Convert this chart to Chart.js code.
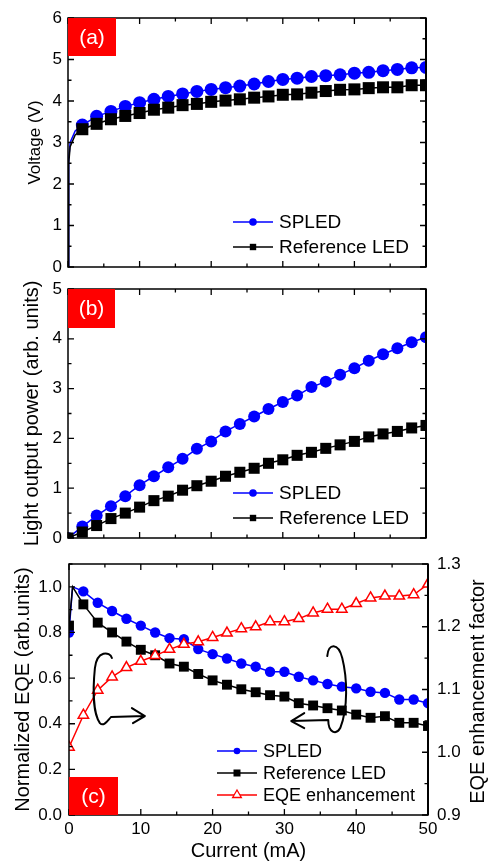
<!DOCTYPE html>
<html>
<head>
<meta charset="utf-8">
<script src="https://cdn.jsdelivr.net/npm/chart.js@4/dist/chart.umd.min.js"></script>
<style>
  body { margin:0; background:#fff; }
  #wrap { position:relative; width:490px; height:863px; }
  canvas { position:absolute; left:0; top:0; }
</style>
</head>
<body>
<div id="wrap">
  <canvas id="cA" width="490" height="863"></canvas>
  <canvas id="cB" width="490" height="863"></canvas>
  <canvas id="cC" width="490" height="863"></canvas>
</div>
<script>
/* ---------- data ---------- */
// (a) voltage vs current
const curA    = [0, 0.1, 0.3, 1.0, 2, 4, 6, 8, 10, 12, 14, 16, 18, 20, 22, 24, 26, 28, 30, 32, 34, 36, 38, 40, 42, 44, 46, 48, 50];
const vSpled  = [0, 2.6, 3.0, 3.28, 3.42, 3.63, 3.75, 3.87, 3.96, 4.04, 4.11, 4.17, 4.23, 4.28, 4.32, 4.36, 4.41, 4.47, 4.52, 4.55, 4.59, 4.61, 4.63, 4.67, 4.69, 4.73, 4.76, 4.80, 4.81];
const vRef    = [0, 2.5, 2.9, 3.18, 3.32, 3.45, 3.56, 3.64, 3.71, 3.79, 3.84, 3.90, 3.93, 3.98, 4.01, 4.04, 4.08, 4.11, 4.15, 4.16, 4.20, 4.24, 4.27, 4.28, 4.31, 4.33, 4.33, 4.38, 4.38];

// (b) light output power vs current
const curB    = [0, 2, 4, 6, 8, 10, 12, 14, 16, 18, 20, 22, 24, 26, 28, 30, 32, 34, 36, 38, 40, 42, 44, 46, 48, 50];
const pSpled  = [0, 0.23, 0.45, 0.64, 0.84, 1.06, 1.24, 1.42, 1.59, 1.79, 1.94, 2.14, 2.29, 2.44, 2.59, 2.73, 2.86, 3.03, 3.14, 3.28, 3.41, 3.56, 3.69, 3.81, 3.93, 4.03];
const pRef    = [0, 0.12, 0.25, 0.39, 0.50, 0.62, 0.75, 0.84, 0.96, 1.05, 1.14, 1.24, 1.32, 1.40, 1.50, 1.57, 1.66, 1.72, 1.80, 1.87, 1.94, 2.03, 2.09, 2.14, 2.21, 2.26];

// (c) normalized EQE and enhancement factor
const curC     = [0, 0.5, 2, 4, 6, 8, 10, 12, 14, 16, 18, 20, 22, 24, 26, 28, 30, 32, 34, 36, 38, 40, 42, 44, 46, 48, 50];
const eqeSpled = [0.80, 1.00, 0.98, 0.93, 0.894, 0.86, 0.83, 0.80, 0.775, 0.77, 0.727, 0.705, 0.686, 0.664, 0.65, 0.628, 0.628, 0.606, 0.59, 0.574, 0.5625, 0.555, 0.54, 0.535, 0.506, 0.506, 0.49];
const eqeRef   = [0.83, 1.00, 0.923, 0.843, 0.80, 0.76, 0.724, 0.70, 0.664, 0.65, 0.618, 0.59, 0.571, 0.551, 0.538, 0.525, 0.519, 0.49, 0.48, 0.468, 0.458, 0.44, 0.426, 0.433, 0.404, 0.404, 0.39];
const curE     = [0, 2, 4, 6, 8, 10, 12, 14, 16, 18, 20, 22, 24, 26, 28, 30, 32, 34, 36, 38, 40, 42, 44, 46, 48, 50];
const eqeEnh   = [1.008, 1.059, 1.099, 1.12, 1.135, 1.145, 1.154, 1.164, 1.172, 1.176, 1.183, 1.19, 1.197, 1.20, 1.208, 1.208, 1.213, 1.222, 1.228, 1.228, 1.237, 1.246, 1.249, 1.249, 1.251, 1.268];

// tick labels
const xTicks   = [0, 10, 20, 30, 40, 50];
const yTicksA  = [0, 1, 2, 3, 4, 5, 6];
const yTicksB  = [0, 1, 2, 3, 4, 5];
const yTicksC  = [0, 0.2, 0.4, 0.6, 0.8, 1.0];
const y1TicksC = [0.9, 1.0, 1.1, 1.2, 1.3];

/* ---------- look ---------- */
const FONT = "'Liberation Sans', Arial, sans-serif";
Chart.defaults.font.family = FONT;
Chart.defaults.color = '#000';
const BLUE = '#0000ff', RED = '#ff0000', BLACK = '#000000';

const pts = (xs, ys) => xs.map((x, i) => ({x, y: ys[i]}));
const setTicks = arr => s => { s.ticks = arr.map(v => ({value: v})); };

// legend marker
const mark = (ctx, style, x, y, r, fill, stroke) => {
  ctx.beginPath();
  if (style === 'circle') ctx.arc(x, y, r, 0, Math.PI * 2);
  else if (style === 'rect') ctx.rect(x - r, y - r, 2 * r, 2 * r);
  else { ctx.moveTo(x, y - r); ctx.lineTo(x + r * 0.87, y + r * 0.5); ctx.lineTo(x - r * 0.87, y + r * 0.5); ctx.closePath(); }
  ctx.fillStyle = fill; ctx.fill();
  if (stroke) { ctx.strokeStyle = stroke; ctx.lineWidth = 1.3; ctx.stroke(); }
};

/* frame, inward ticks, red tag, legend, curly arrows */
const deco = {
  id: 'deco',
  afterDatasetsDraw(chart, _a, o) {
    const {ctx, chartArea: ca} = chart;
    if (!o || !o.tag) return;
    ctx.save();
    ctx.strokeStyle = '#000';
    ctx.lineWidth = 1.3;
    (o.ticks || []).forEach(t => {
      const s = chart.scales[t.axis];
      const n = Math.round((s.max - s.min) / t.minor);
      ctx.beginPath();
      for (let i = 0; i <= n; i++) {
        const v = s.min + i * t.minor;
        const q = v / t.major;
        const len = Math.abs(q - Math.round(q)) < 1e-6 ? 6 : 3.5;
        const p = s.getPixelForValue(v);
        t.sides.forEach(side => {
          if (side === 'bottom') { ctx.moveTo(p, ca.bottom); ctx.lineTo(p, ca.bottom - len); }
          if (side === 'top')    { ctx.moveTo(p, ca.top);    ctx.lineTo(p, ca.top + len); }
          if (side === 'left')   { ctx.moveTo(ca.left, p);   ctx.lineTo(ca.left + len, p); }
          if (side === 'right')  { ctx.moveTo(ca.right, p);  ctx.lineTo(ca.right - len, p); }
        });
      }
      ctx.stroke();
    });
    // frame
    ctx.lineWidth = 1.5;
    ctx.strokeRect(ca.left, ca.top, ca.right - ca.left, ca.bottom - ca.top);
    ctx.lineWidth = 2;
    ctx.beginPath(); ctx.moveTo(ca.right, ca.top); ctx.lineTo(ca.right, ca.bottom); ctx.stroke();

    // red panel tag
    const tg = o.tag;
    const ty = tg.atBottom ? ca.bottom - tg.h : ca.top;
    ctx.fillStyle = RED;
    ctx.fillRect(ca.left, ty, tg.w, tg.h);
    ctx.fillStyle = '#fff';
    ctx.font = `21px ${FONT}`;
    ctx.textAlign = 'center'; ctx.textBaseline = 'middle';
    ctx.fillText(tg.text, ca.left + tg.w / 2, ty + tg.h / 2 + 1);

    // legend
    const lg = o.legend;
    ctx.font = `${lg.size}px ${FONT}`;
    ctx.textAlign = 'left';
    lg.items.forEach((it, i) => {
      const y = lg.y + i * lg.dy;
      ctx.strokeStyle = it.color; ctx.lineWidth = 1.5;
      ctx.beginPath(); ctx.moveTo(lg.x, y); ctx.lineTo(lg.x + 40, y); ctx.stroke();
      mark(ctx, it.style, lg.x + 20, y, it.r, it.fill, it.stroke);
      ctx.fillStyle = '#000';
      ctx.fillText(it.text, lg.x + 46, y + 1);
    });

    // right axis title, read bottom to top
    if (o.rightTitle) {
      ctx.save();
      ctx.translate(o.rightTitle.x, (ca.top + ca.bottom) / 2 + 2);
      ctx.rotate(-Math.PI / 2);
      ctx.font = `20px ${FONT}`;
      ctx.fillStyle = '#000';
      ctx.textAlign = 'center'; ctx.textBaseline = 'middle';
      ctx.fillText(o.rightTitle.text, 0, 0);
      ctx.restore();
    }

    // curly arrows (which curve belongs to which axis)
    if (o.arrows) {
      const sx = chart.scales.x, sy = chart.scales.y;
      ctx.strokeStyle = '#000'; ctx.lineWidth = 2;
      ctx.lineJoin = 'round'; ctx.lineCap = 'round';
      let ax = sx.getPixelForValue(5), ay = sy.getPixelForValue(0.6);
      ctx.beginPath();
      ctx.moveTo(ax + 7, ay - 20);
      ctx.bezierCurveTo(ax + 5, ay - 27, ax - 8, ay - 28, ax - 10, ay - 10);
      ctx.bezierCurveTo(ax - 12, ay + 10, ax - 12, ay + 35, ax - 5, ay + 45);
      ctx.bezierCurveTo(ax - 1, ay + 49, ax + 3, ay + 42, ax + 6, ay + 39);
      ctx.lineTo(ax + 40, ay + 38);
      ctx.moveTo(ax + 27, ay + 30); ctx.lineTo(ax + 40, ay + 38); ctx.lineTo(ax + 28, ay + 45);
      ctx.stroke();
      ax = sx.getPixelForValue(37.5);
      ctx.beginPath();
      ctx.moveTo(ax - 11, ay - 22);
      ctx.bezierCurveTo(ax - 10, ay - 35, ax, ay - 36, ax + 4, ay - 20);
      ctx.bezierCurveTo(ax + 9, ay, ax + 10, ay + 30, ax + 2, ay + 50);
      ctx.bezierCurveTo(ax - 2, ay + 57, ax - 10, ay + 55, ax - 10, ay + 42);
      ctx.lineTo(ax - 47, ay + 43);
      ctx.moveTo(ax - 34, ay + 35); ctx.lineTo(ax - 47, ay + 43); ctx.lineTo(ax - 34, ay + 50);
      ctx.stroke();
    }
    ctx.restore();
  }
};

const tickFont = {size: 17};
const noGrid = {display: false, drawTicks: false};
const noBorder = {display: false};

const xScale = (h, showLabels) => ({
  type: 'linear', min: 0, max: 50,
  afterBuildTicks: setTicks(xTicks),
  grid: noGrid, border: noBorder,
  ticks: {display: showLabels, font: tickFont, padding: 4},
  title: {display: showLabels, text: 'Current (mA)', font: {size: 20}, padding: {top: 0, bottom: 0}},
  afterFit: s => { s.height = h; }
});

const baseOpts = padding => ({
  responsive: false, animation: false, events: [],
  layout: {padding}
});

const legendAB = y => ({x: 233, y, dy: 25, size: 19, items: [
  {text: 'SPLED', style: 'circle', r: 3.8, color: BLUE, fill: BLUE},
  {text: 'Reference LED', style: 'rect', r: 3.2, color: BLACK, fill: BLACK}
]});

/* ---------- (a) ---------- */
new Chart(document.getElementById('cA'), {
  type: 'line',
  data: {datasets: [
    {label: 'SPLED', data: pts(curA, vSpled), order: 2,
     borderColor: BLUE, backgroundColor: BLUE, borderWidth: 1.5,
     pointStyle: 'circle', pointBorderWidth: 0,
     pointRadius: c => curA[c.dataIndex] >= 2 ? 6.5 : 0},
    {label: 'Reference LED', data: pts(curA, vRef), order: 1,
     borderColor: BLACK, backgroundColor: BLACK, borderWidth: 1.5,
     pointStyle: 'rect', pointBorderWidth: 0,
     pointRadius: c => curA[c.dataIndex] >= 2 ? 8.5 : 0}
  ]},
  options: {
    ...baseOpts({top: 18, right: 64, bottom: 583, left: 0}),
    plugins: {legend: {display: false}, tooltip: {enabled: false},
      deco: {
        ticks: [{axis: 'x', major: 10, minor: 5, sides: ['bottom', 'top']},
                {axis: 'y', major: 1, minor: 0.5, sides: ['left', 'right']}],
        tag: {text: '(a)', w: 48, h: 38},
        legend: legendAB(222)
      }},
    scales: {
      x: xScale(13, false),
      y: {min: 0, max: 6, afterBuildTicks: setTicks(yTicksA),
          grid: noGrid, border: noBorder, ticks: {font: tickFont, padding: 6},
          title: {display: true, text: 'Voltage (V)', font: {size: 17}, padding: {top: 25}},
          afterFit: s => { s.width = 68; }}
    }
  },
  plugins: [deco]
});

/* ---------- (b) ---------- */
new Chart(document.getElementById('cB'), {
  type: 'line',
  data: {datasets: [
    {label: 'SPLED', data: pts(curB, pSpled), order: 2,
     borderColor: BLUE, backgroundColor: BLUE, borderWidth: 1.5,
     pointStyle: 'circle', pointBorderWidth: 0, pointRadius: 6},
    {label: 'Reference LED', data: pts(curB, pRef), order: 1,
     borderColor: BLACK, backgroundColor: BLACK, borderWidth: 1.5,
     pointStyle: 'rect', pointBorderWidth: 0, pointRadius: 7.8}
  ]},
  options: {
    ...baseOpts({top: 289, right: 64, bottom: 318, left: 0}),
    plugins: {legend: {display: false}, tooltip: {enabled: false},
      deco: {
        ticks: [{axis: 'x', major: 10, minor: 5, sides: ['bottom', 'top']},
                {axis: 'y', major: 1, minor: 0.5, sides: ['left', 'right']}],
        tag: {text: '(b)', w: 47, h: 39},
        legend: legendAB(493)
      }},
    scales: {
      x: xScale(7, false),
      y: {min: 0, max: 5, afterBuildTicks: setTicks(yTicksB),
          grid: noGrid, border: noBorder, ticks: {font: tickFont, padding: 6},
          title: {display: true, text: 'Light output power (arb. units)', font: {size: 20}, padding: {top: 20}},
          afterFit: s => { s.width = 68; }}
    }
  },
  plugins: [deco]
});

/* ---------- (c) ---------- */
new Chart(document.getElementById('cC'), {
  type: 'line',
  data: {datasets: [
    {label: 'SPLED', data: pts(curC, eqeSpled), yAxisID: 'y', order: 3,
     borderColor: BLUE, backgroundColor: BLUE, borderWidth: 1.5,
     pointStyle: 'circle', pointBorderWidth: 0,
     pointRadius: c => curC[c.dataIndex] === 0.5 ? 0 : 5.2},
    {label: 'Reference LED', data: pts(curC, eqeRef), yAxisID: 'y', order: 2,
     borderColor: BLACK, backgroundColor: BLACK, borderWidth: 1.5,
     pointStyle: 'rect', pointBorderWidth: 0,
     pointRadius: c => curC[c.dataIndex] === 0.5 ? 0 : 7},
    {label: 'EQE enhancement', data: pts(curE, eqeEnh), yAxisID: 'y1', order: 1,
     borderColor: RED, backgroundColor: '#fff', borderWidth: 1.5,
     pointStyle: 'triangle', pointBorderWidth: 1.5, pointBorderColor: RED, pointRadius: 6}
  ]},
  options: {
    ...baseOpts({top: 564, right: 0, bottom: 0, left: 0}),
    plugins: {legend: {display: false}, tooltip: {enabled: false},
      deco: {
        ticks: [{axis: 'x', major: 10, minor: 5, sides: ['bottom', 'top']},
                {axis: 'y', major: 0.2, minor: 0.1, sides: ['left']},
                {axis: 'y1', major: 0.1, minor: 0.05, sides: ['right']}],
        tag: {text: '(c)', w: 49, h: 38, atBottom: true},
        legend: {x: 217, y: 751, dy: 22, size: 18, items: [
          {text: 'SPLED', style: 'circle', r: 3.3, color: BLUE, fill: BLUE},
          {text: 'Reference LED', style: 'rect', r: 3.5, color: BLACK, fill: BLACK},
          {text: 'EQE enhancement', style: 'triangle', r: 5, color: RED, fill: '#fff', stroke: RED}
        ]},
        rightTitle: {text: 'EQE enhancement factor', x: 478},
        arrows: true
      }},
    scales: {
      x: xScale(48, true),
      y: {position: 'left', min: 0, max: 1.1, afterBuildTicks: setTicks(yTicksC),
          grid: noGrid, border: noBorder,
          ticks: {font: tickFont, padding: 7, callback: v => v.toFixed(1)},
          title: {display: true, text: 'Normalized EQE (arb.units)', font: {size: 20}, padding: {top: 11}},
          afterFit: s => { s.width = 69; }},
      y1: {position: 'right', min: 0.9, max: 1.3, afterBuildTicks: setTicks(y1TicksC),
          grid: noGrid, border: noBorder,
          ticks: {font: tickFont, padding: 9, callback: v => v.toFixed(1)},
          afterFit: s => { s.width = 62; }}
    }
  },
  plugins: [deco]
});
</script>
</body>
</html>
